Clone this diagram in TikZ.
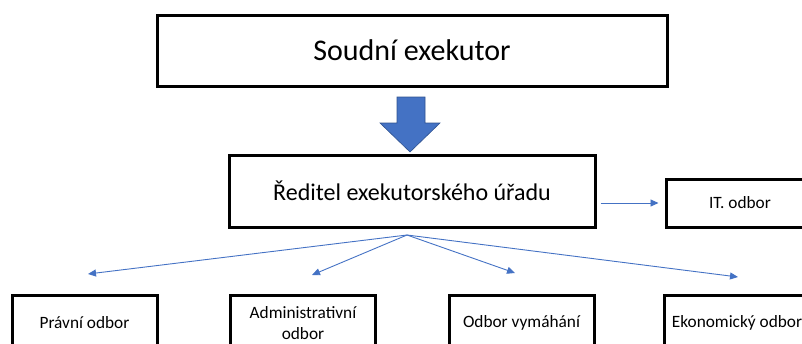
\documentclass[tikz,border=0pt]{standalone}
\usepackage{fontspec}
\setmainfont{Carlito}
\usetikzlibrary{arrows.meta}
\definecolor{arrowblue}{HTML}{4472C4}
\definecolor{arrowedge}{HTML}{2F528F}

\begin{document}
\begin{tikzpicture}[x=1pt,y=-1pt,
    box/.style={draw=black,line width=3pt,fill=white,inner sep=2pt,align=center},
    link/.style={arrowblue,line width=0.9pt,-{Triangle[length=8pt,width=7pt]}}]
        % page size
        \useasboundingbox (0,0) rectangle (802,343);
        \clip (0,0) rectangle (802,343);

        % draw the main boxes
        \node[box,minimum width=510pt,minimum height=71pt,font=\fontsize{30}{36}\selectfont]
            (exekutor) at (412,50.5) {Soudní exekutor};
        \node[box,minimum width=366pt,minimum height=72pt,font=\fontsize{24}{29}\selectfont]
            (reditel) at (412,191) {Ředitel exekutorského úřadu};
        \node[box,minimum width=148pt,minimum height=48pt,font=\fontsize{17.3}{21}\selectfont]
            (it) at (740,203) {IT. odbor};

        % block arrow between the two top boxes
        \filldraw[fill=arrowblue,draw=arrowedge,line width=0.6pt]
            (397,97) -- (425,97) -- (425,123) -- (440,123) -- (410,152)
            -- (380,123) -- (397,123) -- cycle;

        % arrow to the IT box
        \draw[link] (reditel.east |- it.west) ++(4,0) -- ([xshift=-6pt]it.west);

        % fan point under the director
        \coordinate (fan) at (407,235);

        % departments with their arrows
        \foreach \name/\x/\tipx/\tipy/\txt in {
            pravni/84.5/88/274/{Právní odbor},
            admin/303/312/275/{Administrativní\\odbor},
            vymahani/521.5/515/273/{Odbor vymáhání},
            ekonom/737/738/277/{Ekonomický odbor}} {
            \node[box,minimum width=145pt,minimum height=56pt,font=\fontsize{17.3}{21}\selectfont]
                (\name) at (\x,323) {\txt};
            \coordinate (\name tip) at (\tipx,\tipy);
            \draw[link] (fan) -- (\name tip);
        }
    \end{tikzpicture}
\end{document}
